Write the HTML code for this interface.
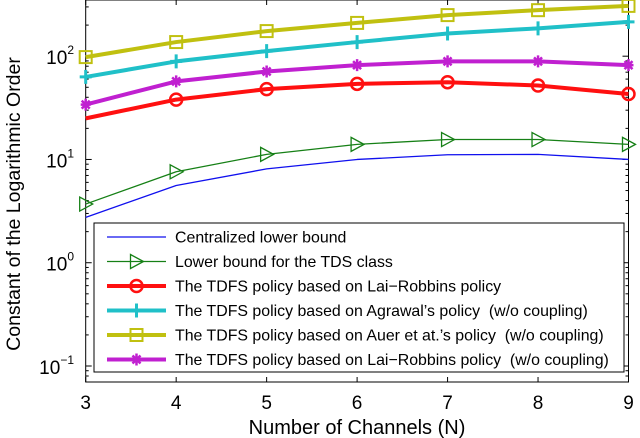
<!DOCTYPE html>
<html><head><meta charset="utf-8"><style>
html,body{margin:0;padding:0;background:#fff;}
svg{display:block;font-family:"Liberation Sans",Arial,sans-serif;}
text{white-space:pre;}
</style></head><body>
<svg id="chart" width="640" height="438" viewBox="0 0 640 438" xmlns="http://www.w3.org/2000/svg"></svg>
<script>
const channels=[3,4,5,6,7,8,9];
const centralized=[2.75,5.6,8.1,10,11.1,11.2,10];
const tdsBound=[3.7,7.6,11.2,14,15.6,15.6,14];
const laiRobbins=[25,38,48,54,56,52,43];
const agrawal=[63,89,112,137,166,186,215];
const auer=[98,137,175,210,250,279,307];
const laiNoCoupling=[34,57,71,82,89,89,82];
const xTicks=[3,4,5,6,7,8,9];
const yDecades=[-1,0,1,2];

const L=85.7,R=628.5,T=0,B=382;
const yTop=Math.log10(350),yBot=Math.log10(0.07);
const X=v=>L+(v-3)/(9-3)*(R-L);
const Y=v=>T+(yTop-Math.log10(v))/(yTop-yBot)*(B-T);
const NS="http://www.w3.org/2000/svg";
const svg=document.getElementById('chart');
function mk(tag,attrs,parent){const e=document.createElementNS(NS,tag);for(const k in attrs)e.setAttribute(k,attrs[k]);(parent||svg).appendChild(e);return e;}

const axes=mk('g',{});


mk('rect',{x:L,y:T,width:R-L,height:B-T,fill:'#fff',stroke:'#000','stroke-width':1},axes);
xTicks.forEach(t=>{
  const x=X(t);
  mk('line',{x1:x,x2:x,y1:B,y2:B-5,stroke:'#000'},axes);
  mk('line',{x1:x,x2:x,y1:T,y2:T+5,stroke:'#000'},axes);
  const tx=mk('text',{x:x,y:409,'font-size':19,'text-anchor':'middle'},axes);
  tx.textContent=t;
  
  
});
for(let d=-2;d<=2;d++){
  for(let m=1;m<10;m++){
    const v=m*Math.pow(10,d);
    if(v<0.07||v>350)continue;
    const y=Y(v),len=m===1?6:3;
    mk('line',{x1:L,x2:L+len,y1:y,y2:y,stroke:'#000'},axes);
    mk('line',{x1:R,x2:R-len,y1:y,y2:y,stroke:'#000'},axes);
  }
}
yDecades.forEach(d=>{
  const y=Y(Math.pow(10,d));
  const t=mk('text',{x:74,y:y+8,'font-size':19,'text-anchor':'end'},axes);
  
  
  const b=mk('tspan',{},t);b.textContent='10';
  const s=mk('tspan',{dy:-10,'font-size':12},t);s.textContent=String(d).replace('-','\u2212');
});
const xl=mk('text',{x:357,y:434,'font-size':20,'text-anchor':'middle'});
xl.textContent='Number of Channels (N)';


const yl=mk('text',{x:0,y:0,'font-size':19.5,'text-anchor':'middle',transform:'translate(20,204) rotate(-90)'});
yl.textContent='Constant of the Logarithmic Order';



function marker(g,type,x,y,color){
  if(type==='tri')mk('path',{d:`M${x-6},${y-7}L${x+7},${y}L${x-6},${y+7}Z`,fill:'none',stroke:color,'stroke-width':1.3},g);
  else if(type==='circle')mk('circle',{cx:x,cy:y,r:6,fill:'none',stroke:color,'stroke-width':2.5},g);
  else if(type==='plus'){mk('path',{d:`M${x-6},${y}H${x+6}M${x},${y-7}V${y+7}`,stroke:color,'stroke-width':3},g);}
  else if(type==='square')mk('rect',{x:x-6,y:y-6,width:12,height:12,fill:'none',stroke:color,'stroke-width':2},g);
  else if(type==='star'){mk('path',{d:`M${x-5},${y}H${x+5}M${x},${y-6}V${y+6}M${x-4},${y-4}L${x+4},${y+4}M${x-4},${y+4}L${x+4},${y-4}`,stroke:color,'stroke-width':2.5},g);}
}
const series=[
 {name:'series-centralized-lower-bound',vals:centralized,color:'#1010ee',w:1.3,m:null,skipFirst:false,label:'Centralized lower bound'},
 {name:'series-tds-lower-bound',vals:tdsBound,color:'#168016',w:1.3,m:'tri',skipFirst:false,label:'Lower bound for the TDS class'},
 {name:'series-tdfs-lai-robbins',vals:laiRobbins,color:'#ff1010',w:4,m:'circle',skipFirst:true,label:'The TDFS policy based on Lai\u2212Robbins policy'},
 {name:'series-tdfs-agrawal',vals:agrawal,color:'#20c0c8',w:4,m:'plus',skipFirst:false,label:'The TDFS policy based on Agrawal\u2019s policy  (w/o coupling)'},
 {name:'series-tdfs-auer',vals:auer,color:'#c0c010',w:4,m:'square',skipFirst:false,label:'The TDFS policy based on Auer et at.\u2019s policy  (w/o coupling)'},
 {name:'series-tdfs-lai-robbins-no-coupling',vals:laiNoCoupling,color:'#c020d0',w:4,m:'star',skipFirst:false,label:'The TDFS policy based on Lai\u2212Robbins policy  (w/o coupling)'}
];
const order=[0,1,2,5,3,4];
order.forEach(i=>{
  const s=series[i];
  const g=mk('g',{});
  
  
  const pts=s.vals.map((v,j)=>X(channels[j])+','+Y(v)).join(' ');
  mk('polyline',{points:pts,fill:'none',stroke:s.color,'stroke-width':s.w,'stroke-linejoin':'round'},g);
  if(s.m)s.vals.forEach((v,j)=>{if(!(s.skipFirst&&j===0))marker(g,s.m,X(channels[j]),Y(v),s.color);});
});
const lg=mk('g',{});


mk('rect',{x:94,y:223,width:530,height:149,fill:'#fff',stroke:'#000','stroke-width':1},lg);
series.forEach((s,i)=>{
  const y=237+i*24.5;
  const e=mk('g',{},lg);
  
  
  mk('line',{x1:107,x2:166,y1:y,y2:y,stroke:s.color,'stroke-width':s.w},e);
  if(s.m)marker(e,s.m,136.5,y,s.color);
  const t=mk('text',{x:175,y:y+5.5,'font-size':15.9},e);
  t.textContent=s.label;
});
</script>
</body></html>
